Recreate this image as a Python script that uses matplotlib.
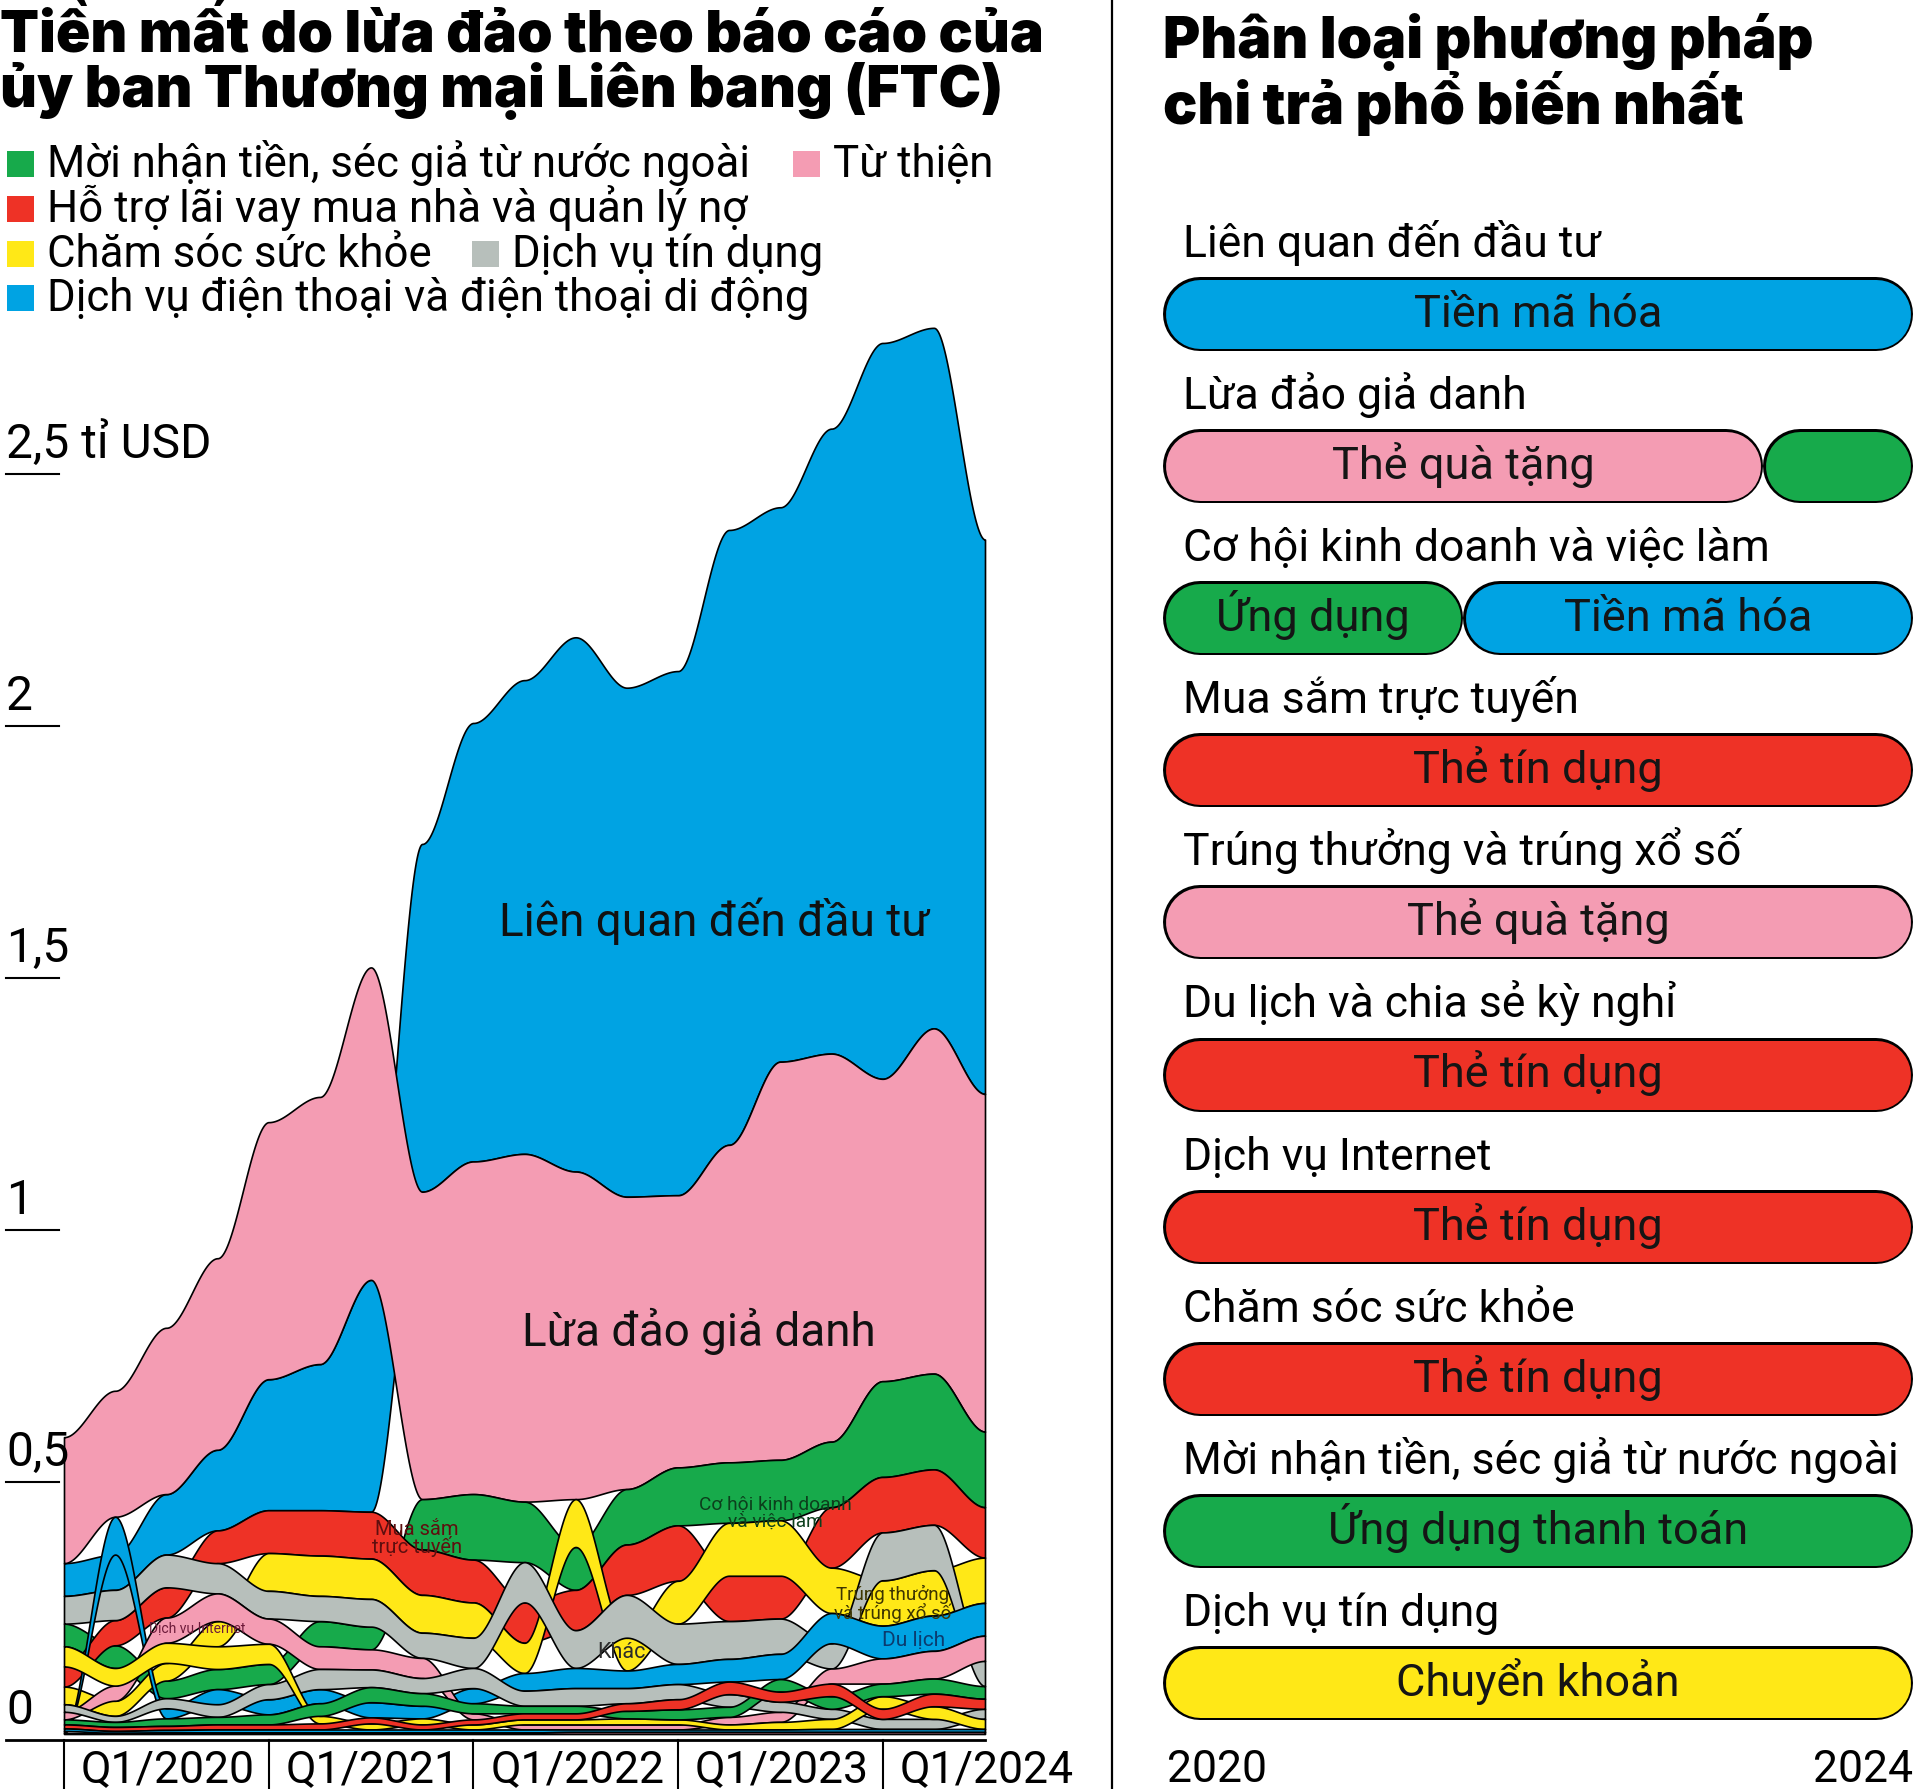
"""FTC fraud losses by category (ranked stream) and top payment methods"""

import numpy as np
import matplotlib.pyplot as plt
from matplotlib.lines import Line2D
from matplotlib.patches import Rectangle

plt.rcParams['font.family'] = ['Roboto', 'DejaVu Sans']

W, H = 1920, 1790

BLUE = '#00a3e3'
PINK = '#f49cb3'
RED = '#ee3226'
GREEN = '#17aa4b'
YELLOW = '#ffe817'
GRAY = '#b7bfbb'

# ---- data: losses per quarter, billion USD (Q1/2020 .. Q3/2024) ----
quarters = ['Q1/2020', 'Q2/2020', 'Q3/2020', 'Q4/2020',
            'Q1/2021', 'Q2/2021', 'Q3/2021', 'Q4/2021',
            'Q1/2022', 'Q2/2022', 'Q3/2022', 'Q4/2022',
            'Q1/2023', 'Q2/2023', 'Q3/2023', 'Q4/2023',
            'Q1/2024', 'Q2/2024', 'Q3/2024']
tick_labels = ['Q1/2020', 'Q1/2021', 'Q1/2022', 'Q1/2023', 'Q1/2024']

investment = [0.065, 0.07, 0.12, 0.16, 0.26, 0.29, 0.46, 0.69, 0.87, 0.94,
              1.06, 1.01, 1.04, 1.22, 1.10, 1.24, 1.46, 1.39, 1.10]
impostor = [0.25, 0.25, 0.33, 0.38, 0.51, 0.53, 0.62, 0.61, 0.66, 0.69,
            0.65, 0.58, 0.54, 0.63, 0.79, 0.77, 0.60, 0.685, 0.67]
shopping = [0.04, 0.05, 0.06, 0.065, 0.085, 0.09, 0.093, 0.09, 0.085, 0.08,
            0.08, 0.10, 0.11, 0.09, 0.085, 0.12, 0.11, 0.11, 0.10]
jobs = [0.045, 0.045, 0.035, 0.04, 0.04, 0.05, 0.045, 0.10, 0.13, 0.12,
        0.085, 0.11, 0.115, 0.12, 0.12, 0.13, 0.19, 0.19, 0.15]
prizes = [0.035, 0.03, 0.035, 0.05, 0.075, 0.08, 0.08, 0.075, 0.07, 0.06,
          0.095, 0.065, 0.085, 0.105, 0.11, 0.09, 0.09, 0.09, 0.09]
other = [0.055, 0.06, 0.065, 0.06, 0.055, 0.05, 0.055, 0.05, 0.06, 0.08,
         0.075, 0.085, 0.08, 0.075, 0.07, 0.05, 0.095, 0.09, 0.05]
travel = [0.004, 0.075, 0.02, 0.03, 0.03, 0.028, 0.03, 0.025, 0.03, 0.035,
          0.04, 0.035, 0.04, 0.045, 0.05, 0.06, 0.065, 0.07, 0.065]
internet = [0.015, 0.03, 0.05, 0.055, 0.05, 0.045, 0.04, 0.04, 0.012, 0.01,
            0.01, 0.01, 0.01, 0.015, 0.02, 0.03, 0.05, 0.055, 0.05]
health = [0.04, 0.035, 0.04, 0.045, 0.04, 0.015, 0.012, 0.012, 0.01, 0.01,
          0.01, 0.012, 0.01, 0.01, 0.015, 0.02, 0.025, 0.025, 0.02]
credit = [0.015, 0.012, 0.02, 0.025, 0.03, 0.04, 0.035, 0.03, 0.04, 0.03,
          0.035, 0.03, 0.03, 0.025, 0.02, 0.02, 0.02, 0.02, 0.02]
foreign = [0.01, 0.01, 0.015, 0.015, 0.02, 0.025, 0.03, 0.025, 0.02, 0.015,
           0.015, 0.015, 0.02, 0.02, 0.025, 0.025, 0.025, 0.03, 0.025]
debt = [0.008, 0.008, 0.008, 0.01, 0.01, 0.012, 0.012, 0.01, 0.01, 0.012,
        0.012, 0.015, 0.02, 0.025, 0.02, 0.025, 0.02, 0.025, 0.02]
phone = [0.005, 0.004, 0.005, 0.006, 0.006, 0.006, 0.006, 0.006, 0.006, 0.006,
         0.005, 0.005, 0.005, 0.005, 0.005, 0.006, 0.006, 0.006, 0.006]
charity = [0.002, 0.002, 0.003, 0.003, 0.003, 0.003, 0.003, 0.003, 0.003, 0.003,
           0.004, 0.004, 0.004, 0.004, 0.004, 0.004, 0.004, 0.004, 0.004]

categories = [investment, impostor, shopping, jobs, prizes, other, travel,
              internet, health, credit, foreign, debt, phone, charity]
cat_colors = [BLUE, PINK, RED, GREEN, YELLOW, GRAY, BLUE,
              PINK, YELLOW, GRAY, GREEN, RED, BLUE, PINK]

legend_labels = ['Mời nhận tiền, séc giả từ nước ngoài', 'Từ thiện',
                 'Hỗ trợ lãi vay mua nhà và quản lý nợ',
                 'Chăm sóc sức khỏe', 'Dịch vụ tín dụng',
                 'Dịch vụ điện thoại và điện thoại di động']
legend_colors = [GREEN, PINK, RED, YELLOW, GRAY, BLUE]

y_ticks = [0, 0.5, 1, 1.5, 2, 2.5]
y_tick_labels = ['0', '0,5', '1', '1,5', '2', '2,5 tỉ USD']

# ---- data: most common payment method per scam type (2020-2024) ----
pay_rows = ['Liên quan đến đầu tư', 'Lừa đảo giả danh',
            'Cơ hội kinh doanh và việc làm', 'Mua sắm trực tuyến',
            'Trúng thưởng và trúng xổ số', 'Du lịch và chia sẻ kỳ nghỉ',
            'Dịch vụ Internet', 'Chăm sóc sức khỏe',
            'Mời nhận tiền, séc giả từ nước ngoài', 'Dịch vụ tín dụng']
pay_start = [[2020], [2020, 2023.2], [2020, 2021.6], [2020], [2020],
             [2020], [2020], [2020], [2020], [2020]]
pay_end = [[2024], [2023.2, 2024], [2021.6, 2024], [2024], [2024],
           [2024], [2024], [2024], [2024], [2024]]
pay_method = [['Tiền mã hóa'], ['Thẻ quà tặng', 'Ứng dụng thanh toán'],
              ['Ứng dụng', 'Tiền mã hóa'], ['Thẻ tín dụng'], ['Thẻ quà tặng'],
              ['Thẻ tín dụng'], ['Thẻ tín dụng'], ['Thẻ tín dụng'],
              ['Ứng dụng thanh toán'], ['Chuyển khoản']]
method_colors = {'Tiền mã hóa': BLUE, 'Thẻ quà tặng': PINK, 'Ứng dụng': GREEN,
                 'Ứng dụng thanh toán': GREEN, 'Thẻ tín dụng': RED,
                 'Chuyển khoản': YELLOW}

fig = plt.figure(figsize=(W / 100, H / 100), dpi=100)


def fx(px):
    return px / W


def fy(py):
    return 1 - py / H


# ---------------- left panel ----------------
X0, QW = 64, (985 - 64) / 18      # px of Q1/2020, px per quarter
Y0, UNIT = 1735, 504              # px of zero, px per billion
ax = fig.add_axes([0, 0, fx(1110), (H - 300) / H])
ax.set_xlim(-X0 / QW, (1110 - X0) / QW)
ax.set_ylim((Y0 - H) / UNIT, (Y0 - 300) / UNIT)
ax.axis('off')

vals = np.array(categories)
n = vals.shape[1]
lo = np.zeros_like(vals)
hi = np.zeros_like(vals)
for j in range(n):
    base = 0.0
    for i in np.argsort(vals[:, j], kind='stable'):
        lo[i, j] = base
        base += vals[i, j]
        hi[i, j] = base

xs = np.linspace(0, n - 1, 2400)
k = np.minimum(xs.astype(int), n - 2)
t = xs - k
s = t * t * (3 - 2 * t)


def ease(row):
    return row[k] + (row[k + 1] - row[k]) * s


for z, i in enumerate(np.argsort(-vals.sum(axis=1), kind='stable')):
    ax.fill_between(xs, ease(lo[i]), ease(hi[i]), facecolor=cat_colors[i],
                    edgecolor='black', linewidth=1.2, zorder=2 + z * 0.01)

x_left = (6 - X0) / QW
x_tick_end = (59 - X0) / QW
base_y = -0.012
for v, lab in zip(y_ticks, y_tick_labels):
    if v == 0:
        ax.plot([x_left, n - 1], [base_y, base_y], color='black', lw=2, zorder=5)
        yy = base_y
    else:
        ax.plot([x_left, x_tick_end], [v, v], color='black', lw=1.5, zorder=5)
        yy = v
    ax.text(x_left, yy + 17 / UNIT, lab, fontsize=34.5, ha='left',
            va='baseline', zorder=6)

bottom = (Y0 - H) / UNIT
for q, lab in zip(range(0, n, 4), tick_labels):
    ax.plot([q, q], [base_y, bottom], color='black', lw=1.5, zorder=5)
    ax.text(q + 17 / QW, (Y0 - 1782) / UNIT, lab, fontsize=32,
            ha='left', va='baseline')

# layer labels
ax.text(12.7, 1.615, 'Liên quan đến đầu tư', fontsize=33, ha='center',
        va='center', color='#111111', zorder=10)
ax.text(12.4, 0.80, 'Lừa đảo giả danh', fontsize=33, ha='center',
        va='center', color='#111111', zorder=10)
ax.text(6.9, 0.39, 'Mua sắm\ntrực tuyến', fontsize=14.5, ha='center',
        va='center', color='#5e0f0f', linespacing=0.85, zorder=10)
ax.text(13.9, 0.44, 'Cơ hội kinh doanh\nvà việc làm', fontsize=13.8,
        ha='center', va='center', color='#0c3f1c', linespacing=0.95, zorder=10)
ax.text(16.2, 0.26, 'Trúng thưởng\nvà trúng xổ số', fontsize=13.5,
        ha='center', va='center', color='#3d3500', linespacing=0.95, zorder=10)
ax.text(10.9, 0.163, 'Khác', fontsize=15.5, ha='center', va='center',
        color='#2b2b2b', zorder=10)
ax.text(16.6, 0.187, 'Du lịch', fontsize=15, ha='center', va='center',
        color='#0b3c70', zorder=10)
ax.text(2.6, 0.21, 'Dịch vụ Internet', fontsize=10, ha='center',
        va='center', color='#6d1a3a', zorder=10)

# title + legend
title_font = ['Inter', 'Roboto', 'DejaVu Sans']
fig.text(0, fy(52), 'Tiền mất do lừa đảo theo báo cáo của', fontsize=41,
         fontweight='black', family=title_font, va='baseline')
fig.text(0, fy(107), 'ủy ban Thương mại Liên bang (FTC)', fontsize=41,
         fontweight='black', family=title_font, va='baseline')

legend_pos = [(7, 165), (793, 165), (7, 210), (7, 255), (472, 255), (7, 299)]
for lab, col, (px, py) in zip(legend_labels, legend_colors, legend_pos):
    fig.add_artist(Rectangle((fx(px), fy(py + 13)), fx(27), 26 / H,
                             transform=fig.transFigure, facecolor=col,
                             edgecolor='none'))
    fig.text(fx(px + 40), fy(py + 12), lab, fontsize=31.5, va='baseline')

# divider
fig.add_artist(Line2D([fx(1112), fx(1112)], [0, 1], transform=fig.transFigure,
                      color='black', lw=1.6))

# ---------------- right panel ----------------
YPX = 187.5  # px per year
ax2 = fig.add_axes([fx(1113), 0, fx(1920) - fx(1113), 1])
ax2.set_xlim(2020 + (1113 - 1163) / YPX, 2020 + (1920 - 1163) / YPX)
ax2.set_ylim(H, 0)
ax2.axis('off')

fig.text(fx(1163), fy(58), 'Phân loại phương pháp', fontsize=41,
         fontweight='black', family=title_font, va='baseline')
fig.text(fx(1163), fy(124), 'chi trả phổ biến nhất', fontsize=41,
         fontweight='black', family=title_font, va='baseline')

pill_h = 74
r = pill_h / 2 / YPX
for i, row in enumerate(pay_rows):
    yc = 315 + i * 152.1
    ax2.text(2020 + 20 / YPX, yc - 58, row, fontsize=32, va='baseline')
    for a, b, m in zip(pay_start[i], pay_end[i], pay_method[i]):
        ax2.plot([a + r, b - r], [yc, yc], color='black',
                 lw=pill_h * 0.72, solid_capstyle='round')
        ax2.plot([a + r, b - r], [yc, yc], color=method_colors[m],
                 lw=(pill_h - 5) * 0.72, solid_capstyle='round')
        if b - a > 1:
            ax2.text((a + b) / 2, yc + 12, m, fontsize=32.5, ha='center',
                     va='baseline', color='#151515')

ax2.text(2020 + 4 / YPX, 1782, '2020', fontsize=32, ha='left', va='baseline')
ax2.text(2024, 1782, '2024', fontsize=32, ha='right', va='baseline')

fig.savefig('out.png', dpi=100, facecolor='white')
